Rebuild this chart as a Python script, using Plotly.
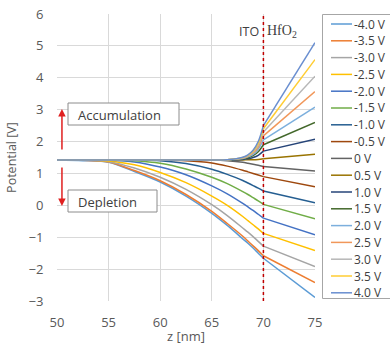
import plotly.graph_objects as go

# z positions (nm) in ITO and HfO2 regions
z_ito = [50, 52.5, 55, 57.5, 60, 62.5, 65, 66.5, 68, 68.5, 69, 69.5, 70]
z_hfo2 = [70, 75]

labels = ["-4.0 V", "-3.5 V", "-3.0 V", "-2.5 V", "-2.0 V", "-1.5 V", "-1.0 V", "-0.5 V",
          "0 V", "0.5 V", "1.0 V", "1.5 V", "2.0 V", "2.5 V", "3.0 V", "3.5 V", "4.0 V"]

colors = ["#5B9BD5", "#ED7D31", "#A5A5A5", "#FFC000", "#4472C4", "#70AD47", "#255E91", "#9E480E",
          "#636363", "#997300", "#264478", "#43682B", "#7CAFDD", "#F1975A", "#B7B7B7", "#FFCD33", "#698ED0"]

# potential (V) in ITO at z_ito
v_m40 = [1.42, 1.40, 1.35, 1.06, 0.73, 0.29, -0.25, -0.63, -1.05, -1.19, -1.34, -1.50, -1.66]
v_m35 = [1.42, 1.41, 1.36, 1.09, 0.77, 0.34, -0.19, -0.57, -0.97, -1.12, -1.27, -1.42, -1.58]
v_m30 = [1.42, 1.42, 1.37, 1.17, 0.88, 0.50, 0.02, -0.32, -0.71, -0.84, -0.98, -1.13, -1.28]
v_m25 = [1.42, 1.42, 1.39, 1.27, 1.03, 0.71, 0.29, 0.00, -0.35, -0.48, -0.61, -0.74, -0.88]
v_m20 = [1.42, 1.42, 1.41, 1.36, 1.20, 0.96, 0.61, 0.36, 0.06, -0.05, -0.16, -0.28, -0.40]
v_m15 = [1.42, 1.42, 1.42, 1.40, 1.32, 1.14, 0.88, 0.68, 0.43, 0.34, 0.24, 0.14, 0.03]
v_m10 = [1.42, 1.42, 1.42, 1.42, 1.40, 1.31, 1.13, 0.97, 0.78, 0.70, 0.62, 0.54, 0.45]
v_m05 = [1.42, 1.42, 1.42, 1.42, 1.42, 1.40, 1.33, 1.23, 1.10, 1.05, 1.00, 0.95, 0.90]
v_p00 = [1.42, 1.42, 1.42, 1.42, 1.42, 1.42, 1.42, 1.40, 1.35, 1.32, 1.29, 1.26, 1.22]
v_p05 = [1.42, 1.42, 1.42, 1.42, 1.42, 1.42, 1.42, 1.42, 1.42, 1.43, 1.43, 1.44, 1.46]
v_p10 = [1.42, 1.42, 1.42, 1.42, 1.42, 1.42, 1.42, 1.42, 1.44, 1.46, 1.50, 1.57, 1.70]
v_p15 = [1.42, 1.42, 1.42, 1.42, 1.42, 1.42, 1.42, 1.43, 1.46, 1.49, 1.56, 1.68, 1.90]
v_p20 = [1.42, 1.42, 1.42, 1.42, 1.42, 1.42, 1.42, 1.43, 1.47, 1.52, 1.60, 1.76, 2.05]
v_p25 = [1.42, 1.42, 1.42, 1.42, 1.42, 1.42, 1.42, 1.43, 1.48, 1.54, 1.64, 1.83, 2.18]
v_p30 = [1.42, 1.42, 1.42, 1.42, 1.42, 1.42, 1.42, 1.43, 1.49, 1.555, 1.67, 1.89, 2.30]
v_p35 = [1.42, 1.42, 1.42, 1.42, 1.42, 1.42, 1.42, 1.43, 1.50, 1.57, 1.70, 1.94, 2.40]
v_p40 = [1.42, 1.42, 1.42, 1.42, 1.42, 1.42, 1.42, 1.43, 1.51, 1.585, 1.73, 2.00, 2.50]

# potential (V) at z = 75 nm (end of HfO2)
v_end = [-2.89, -2.42, -1.92, -1.42, -0.92, -0.42, 0.08, 0.58,
         1.08, 1.60, 2.07, 2.60, 3.08, 3.57, 4.05, 4.57, 5.10]

ito_series = [v_m40, v_m35, v_m30, v_m25, v_m20, v_m15, v_m10, v_m05,
              v_p00, v_p05, v_p10, v_p15, v_p20, v_p25, v_p30, v_p35, v_p40]

x_ticks = [50, 55, 60, 65, 70, 75]
y_ticks = [-3, -2, -1, 0, 1, 2, 3, 4, 5, 6]

FONT = "Open Sans, DejaVu Sans, sans-serif"
TXT = "#595959"
W, H = 390, 345
ML, MR, MT, MB = 57, 75, 14, 44
PW, PH = W - ML - MR, H - MT - MB


def px_x(px):
    return (px - ML) / PW


def px_y(py):
    return (H - MB - py) / PH


fig = go.Figure()
for name, col, vi, ve in zip(labels, colors, ito_series, v_end):
    fig.add_trace(go.Scatter(x=z_ito, y=vi, mode="lines", name=name, legendgroup=name,
                             showlegend=False,
                             line=dict(color=col, width=1.5, shape="spline", smoothing=0.8)))
    fig.add_trace(go.Scatter(x=z_hfo2, y=[vi[-1], ve], mode="lines", name=name, legendgroup=name,
                             showlegend=False, line=dict(color=col, width=1.5)))

shapes = []
# interface line
shapes.append(dict(type="line", xref="x", yref="paper", x0=70, x1=70, y0=0, y1=1,
                   line=dict(color="#C00000", width=1.5, dash="dot")))
# text boxes
shapes.append(dict(type="rect", xref="paper", yref="paper", x0=px_x(68), x1=px_x(179),
                   y0=px_y(125), y1=px_y(103), line=dict(color="#8C8C8C", width=1),
                   fillcolor="white", layer="above"))
shapes.append(dict(type="rect", xref="paper", yref="paper", x0=px_x(68), x1=px_x(157),
                   y0=px_y(212), y1=px_y(190), line=dict(color="#8C8C8C", width=1),
                   fillcolor="white", layer="above"))
# legend frame
shapes.append(dict(type="rect", xref="paper", yref="paper", x0=px_x(322.5), x1=px_x(420),
                   y0=px_y(298.5), y1=px_y(14.5), line=dict(color="#A6A6A6", width=1),
                   fillcolor="white", layer="above"))

annotations = [
    dict(text="Accumulation", xref="paper", yref="paper", x=px_x(76), y=px_y(114.5), xanchor="left",
         yanchor="middle", showarrow=False, font=dict(family=FONT, size=13, color="#404040")),
    dict(text="Depletion", xref="paper", yref="paper", x=px_x(76), y=px_y(201.5), xanchor="left",
         yanchor="middle", showarrow=False, font=dict(family=FONT, size=13, color="#404040")),
    dict(text="ITO", x=70, y=5.45, xref="x", yref="y", xanchor="right", yanchor="middle",
         xshift=-2, showarrow=False, font=dict(family=FONT, size=12.5, color="#404040")),
    dict(text="HfO<sub>2</sub>", x=70, y=5.45, xref="x", yref="y", xanchor="left", yanchor="middle",
         xshift=2, showarrow=False, font=dict(family="Liberation Serif, serif", size=14, color="#404040")),
    dict(text="", x=50.48, y=3.02, ax=50.48, ay=1.7, xref="x", yref="y", axref="x", ayref="y",
         showarrow=True, arrowhead=2, arrowsize=1, arrowwidth=1.5, arrowcolor="#E02020"),
    dict(text="", x=50.48, y=-0.02, ax=50.48, ay=1.23, xref="x", yref="y", axref="x", ayref="y",
         showarrow=True, arrowhead=2, arrowsize=1, arrowwidth=1.5, arrowcolor="#E02020"),
]

# legend entries (drawn as shapes + text to match the compact Excel spacing)
for i, (name, col) in enumerate(zip(labels, colors)):
    yc = 24 + 16.8 * i
    shapes.append(dict(type="line", xref="paper", yref="paper", x0=px_x(331), x1=px_x(352),
                       y0=px_y(yc), y1=px_y(yc), line=dict(color=col, width=1.5), layer="above"))
    annotations.append(dict(text=name, xref="paper", yref="paper", x=px_x(352), y=px_y(yc),
                            xanchor="left", yanchor="middle", showarrow=False,
                            font=dict(family=FONT, size=12, color="#404040")))

fig.update_layout(
    width=W, height=H,
    margin=dict(l=ML, r=MR, t=MT, b=MB, autoexpand=False),
    paper_bgcolor="white", plot_bgcolor="white",
    font=dict(family=FONT, size=12, color=TXT),
    showlegend=False,
    shapes=shapes,
    annotations=annotations,
)
fig.update_xaxes(range=[50, 75], tickvals=x_ticks, showgrid=True, gridcolor="#D9D9D9", gridwidth=1,
                 zeroline=False, showline=False, ticks="outside", ticklen=9, tickcolor="rgba(0,0,0,0)",
                 title=dict(text="z [nm]", standoff=3, font=dict(size=13, color=TXT)),
                 tickfont=dict(size=13, color=TXT))
fig.update_yaxes(range=[-3, 6], tickvals=y_ticks, showgrid=True, gridcolor="#D9D9D9", gridwidth=1,
                 zeroline=False, showline=False, ticks="outside", ticklen=10, tickcolor="rgba(0,0,0,0)",
                 title=dict(text="Potential [V]", standoff=9, font=dict(size=12.5, color=TXT)),
                 tickfont=dict(size=13, color=TXT))

fig.write_html("out.html")
